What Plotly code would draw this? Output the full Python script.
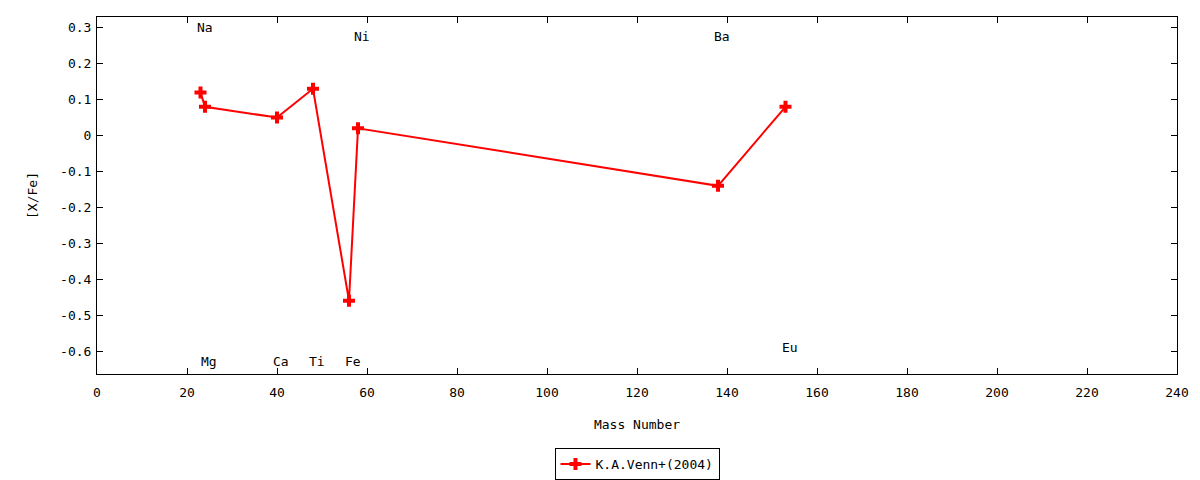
import plotly.graph_objects as go

# element abundances vs mass number
elements = ["Na", "Mg", "Ca", "Ti", "Fe", "Ni", "Ba", "Eu"]
mass = [23, 24, 40, 48, 56, 58, 138, 153]
x_fe = [0.12, 0.08, 0.05, 0.13, -0.46, 0.02, -0.14, 0.08]
label_y = [0.3, -0.63, -0.63, -0.63, -0.63, 0.275, 0.275, -0.59]

y_ticks = [-0.6, -0.5, -0.4, -0.3, -0.2, -0.1, 0, 0.1, 0.2, 0.3]
y_ticktext = ["-0.6", "-0.5", "-0.4", "-0.3", "-0.2", "-0.1", "0", "0.1", "0.2", "0.3"]
x_ticks = list(range(0, 241, 20))

font = dict(family="DejaVu Sans Mono", size=13, color="black")

fig = go.Figure()
fig.add_trace(
    go.Scatter(
        x=mass,
        y=x_fe,
        mode="lines+markers",
        name="K.A.Venn+(2004)",
        line=dict(color="#ff0000", width=2),
        marker=dict(symbol="cross", size=10, color="#ff0000"),
    )
)

# element labels, left aligned near their mass number
for el, m, ly in zip(elements, mass, label_y):
    fig.add_annotation(
        x=m - 1.3, y=ly, text=el, showarrow=False,
        xanchor="left", yanchor="middle", font=font,
    )

axis_common = dict(
    showline=True, linecolor="black", linewidth=1, mirror="allticks",
    ticks="inside", ticklen=6, tickcolor="black", showgrid=False,
    zeroline=False, tickfont=font, automargin=False,
)
fig.update_xaxes(range=[0, 240], tickvals=x_ticks, ticktext=[str(v) for v in x_ticks],
                 ticklabelstandoff=6,
                 title=dict(text="Mass Number", font=font, standoff=21), **axis_common)
fig.update_yaxes(range=[-0.664, 0.33], tickvals=y_ticks, ticktext=y_ticktext,
                 ticklabelstandoff=2,
                 title=dict(text="[X/Fe]", font=font, standoff=19), **axis_common)

# page body adds 8px, so margins are shifted to compensate
fig.update_layout(
    width=1200, height=480,
    margin=dict(l=89, r=31, t=9, b=113),
    paper_bgcolor="white", plot_bgcolor="white",
    font=font,
    showlegend=True,
    legend=dict(
        x=0.5, xanchor="center", y=-0.249, yanchor="middle",
        orientation="h", bordercolor="black", borderwidth=1,
        bgcolor="white", font=font,
    ),
)

fig.write_html("out.html")
